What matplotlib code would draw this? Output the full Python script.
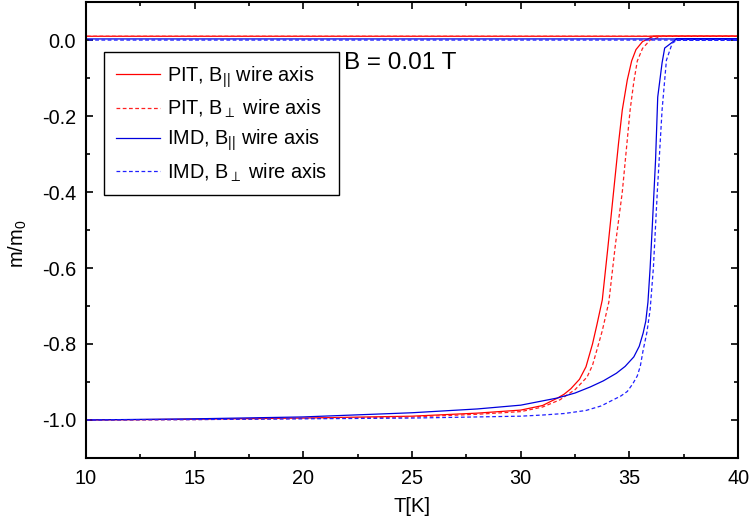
import matplotlib
matplotlib.use('Agg')
import matplotlib.pyplot as plt
from matplotlib.ticker import MultipleLocator, FormatStrFormatter

plt.rcParams['font.family'] = ['Liberation Sans', 'DejaVu Sans']
plt.rcParams['mathtext.fontset'] = 'custom'
plt.rcParams['mathtext.rm'] = 'Liberation Sans'
plt.rcParams['mathtext.it'] = 'Liberation Sans'

# warming branch through the transition, then the flat branch back to 10 K
T_pit_par = [10, 15, 20, 25, 28, 30, 31, 31.7, 32.0, 32.3, 32.7, 33.0, 33.3, 33.5, 33.75, 34.0,
             34.25, 34.5, 34.67, 34.9, 35.1, 35.3, 35.6, 36.1, 40, 10]
m_pit_par = [-1.0, -0.998, -0.995, -0.99, -0.982, -0.974, -0.962, -0.942, -0.932, -0.918, -0.893, -0.86,
             -0.80, -0.75, -0.684, -0.55, -0.41, -0.27, -0.184, -0.105, -0.055, -0.025, -0.004, 0.01,
             0.01, 0.01]

T_pit_perp = [10, 15, 20, 25, 28, 30, 31, 31.8, 32.5, 33.05, 33.3, 33.5, 33.75, 34.05, 34.35,
              34.67, 35.03, 35.2, 35.36, 35.6, 35.95, 36.5, 40, 10]
m_pit_perp = [-1.0, -0.999, -0.996, -0.992, -0.985, -0.978, -0.966, -0.947, -0.92, -0.887, -0.856,
              -0.816, -0.765, -0.69, -0.54, -0.40, -0.184, -0.11, -0.055, -0.022, 0.0, 0.01, 0.01, 0.01]

T_imd_par = [10, 15, 20, 25, 28, 30, 31.7, 32.5, 33.2, 33.8, 34.4, 34.8, 35.2, 35.45, 35.63, 35.75,
             35.85, 35.95, 36.05, 36.2, 36.3, 36.4, 36.5, 36.62, 37.17, 40, 10]
m_imd_par = [-1.0, -0.997, -0.992, -0.981, -0.971, -0.961, -0.942, -0.929, -0.913, -0.897, -0.877,
             -0.859, -0.834, -0.806, -0.771, -0.74, -0.69, -0.60, -0.49, -0.316, -0.15, -0.105,
             -0.06, -0.021, 0.003, 0.003, 0.003]

T_imd_perp = [10, 15, 20, 25, 28, 30, 31, 32, 33, 33.7, 34.25, 34.6, 34.9, 35.15, 35.36, 35.5,
              35.63, 35.8, 35.95, 36.1, 36.28, 36.5, 36.7, 36.97, 37.2, 40, 10]
m_imd_perp = [-1.0, -0.999, -0.997, -0.995, -0.992, -0.99, -0.987, -0.983, -0.975, -0.963, -0.947,
              -0.937, -0.925, -0.905, -0.884, -0.858, -0.816, -0.77, -0.71, -0.6, -0.40, -0.184,
              -0.053, -0.008, 0.0, 0.0, 0.0]

labels = [r'PIT, B$_{||}$ wire axis', r'PIT, B$_{\perp}$ wire axis',
          r'IMD, B$_{||}$ wire axis', r'IMD, B$_{\perp}$ wire axis']

fig = plt.figure(figsize=(7.54, 5.21), dpi=100)
ax = fig.add_axes([0.114, 0.121, 0.865, 0.875])

ax.plot(T_pit_par, m_pit_par, '-', color='#ff0000', lw=0.9, label=labels[0])
ax.plot(T_pit_perp, m_pit_perp, '--', color='#ff2020', lw=0.9, dashes=(3, 2), label=labels[1])
ax.plot(T_imd_par, m_imd_par, '-', color='#0000dd', lw=0.9, label=labels[2])
ax.plot(T_imd_perp, m_imd_perp, '--', color='#2020ff', lw=0.9, dashes=(3, 2), label=labels[3])

ax.set_xlim(10, 40)
ax.set_ylim(-1.1, 0.1)
ax.xaxis.set_major_locator(MultipleLocator(5))
ax.xaxis.set_minor_locator(MultipleLocator(2.5))
ax.yaxis.set_major_locator(MultipleLocator(0.2))
ax.yaxis.set_minor_locator(MultipleLocator(0.1))
ax.yaxis.set_major_formatter(FormatStrFormatter('%.1f'))
ax.tick_params(which='both', direction='in', top=True, right=True, labelsize=14.3, width=1.2)
ax.tick_params(which='major', length=5)
ax.tick_params(which='minor', length=3)
ax.tick_params(axis='x', which='major', pad=8)
ax.tick_params(axis='y', which='major', pad=7)
for s in ax.spines.values():
    s.set_linewidth(1.5)

ax.set_xlabel('T[K]', fontsize=14.5)
ax.set_ylabel(r'm/m$_0$', fontsize=14.5)
ax.xaxis.set_label_coords(0.5, -0.085)
ax.yaxis.set_label_coords(-0.088, 0.471)

leg = ax.legend(loc='upper left', bbox_to_anchor=(0.028, 0.89), borderaxespad=0,
                fontsize=14.3, fancybox=False, edgecolor='black', framealpha=1,
                handlelength=2.2, handletextpad=0.35, labelspacing=0.4, borderpad=0.6)
leg.get_frame().set_linewidth(1.0)

ax.text(0.395, 0.866, 'B = 0.01 T', transform=ax.transAxes, fontsize=17.5, va='center', zorder=10)

fig.savefig('out.png', dpi=100)
